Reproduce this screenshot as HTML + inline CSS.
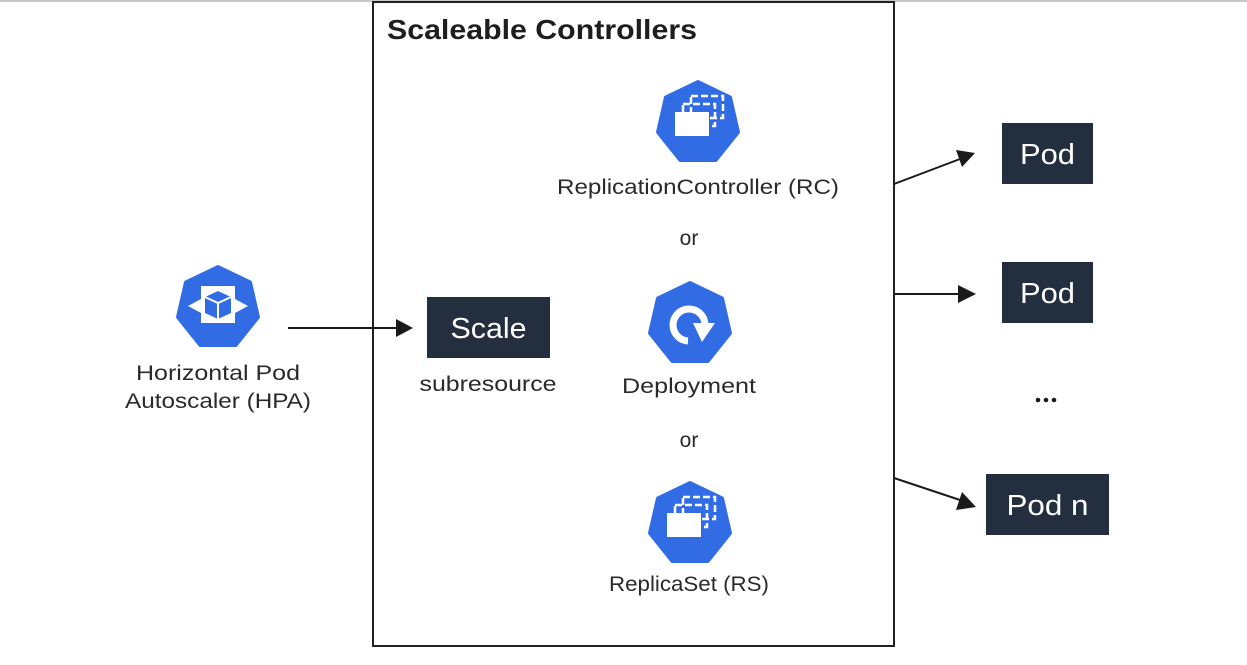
<!DOCTYPE html>
<html><head><meta charset="utf-8"><style>
html,body{margin:0;padding:0;background:#fff;}
svg{display:block;}
text{font-family:"Liberation Sans","DejaVu Sans",sans-serif;}
</style></head><body>
<svg width="1247" height="665" viewBox="0 0 1247 665" xmlns="http://www.w3.org/2000/svg">
<line x1="0" y1="1" x2="1247" y2="1" stroke="#c8c8c8" stroke-width="2"/>
<rect x="373" y="2" width="521" height="644" fill="#fff" stroke="#222" stroke-width="2"/>
<text x="387" y="39" font-size="28" font-weight="bold" fill="#1e1e1e" textLength="310" lengthAdjust="spacingAndGlyphs">Scaleable Controllers</text>

<!-- RC icon -->
<g transform="translate(698,123)">
<polygon points="0,-41 32.05,-25.56 39.97,9.12 17.79,36.94 -17.79,36.94 -39.97,9.12 -32.05,-25.56" fill="#326ce5" stroke="#326ce5" stroke-width="4" stroke-linejoin="round"/>
<rect x="-7" y="-27" width="32" height="22" fill="none" stroke="#fff" stroke-width="2.5" stroke-dasharray="7,3"/>
<rect x="-15" y="-19" width="32" height="22" fill="none" stroke="#fff" stroke-width="2.5" stroke-dasharray="7,3"/>
<rect x="-23" y="-11" width="34" height="24" fill="#fff"/>
</g>
<text x="698" y="194" font-size="21" fill="#2a2a2a" text-anchor="middle" textLength="282" lengthAdjust="spacingAndGlyphs">ReplicationController (RC)</text>
<text x="689" y="245" font-size="21" fill="#2a2a2a" text-anchor="middle">or</text>

<!-- Deployment icon -->
<g transform="translate(690,324)">
<polygon points="0,-41 32.05,-25.56 39.97,9.12 17.79,36.94 -17.79,36.94 -39.97,9.12 -32.05,-25.56" fill="#326ce5" stroke="#326ce5" stroke-width="4" stroke-linejoin="round"/>
<path d="M-2,17 A16,16 0 1 1 15,0" fill="none" stroke="#fff" stroke-width="7"/>
<path d="M3,-1 L25,-1 L12,18 z" fill="#fff"/>
</g>
<text x="689" y="393" font-size="21" fill="#2a2a2a" text-anchor="middle" textLength="134" lengthAdjust="spacingAndGlyphs">Deployment</text>
<text x="689" y="447" font-size="21" fill="#2a2a2a" text-anchor="middle">or</text>

<!-- RS icon -->
<g transform="translate(690,524)">
<polygon points="0,-41 32.05,-25.56 39.97,9.12 17.79,36.94 -17.79,36.94 -39.97,9.12 -32.05,-25.56" fill="#326ce5" stroke="#326ce5" stroke-width="4" stroke-linejoin="round"/>
<rect x="-7" y="-27" width="32" height="22" fill="none" stroke="#fff" stroke-width="2.5" stroke-dasharray="7,3"/>
<rect x="-15" y="-19" width="32" height="22" fill="none" stroke="#fff" stroke-width="2.5" stroke-dasharray="7,3"/>
<rect x="-23" y="-11" width="34" height="24" fill="#fff"/>
</g>
<text x="689" y="591" font-size="21" fill="#2a2a2a" text-anchor="middle" textLength="160" lengthAdjust="spacingAndGlyphs">ReplicaSet (RS)</text>

<!-- HPA icon -->
<g transform="translate(218,308)">
<polygon points="0,-41 32.05,-25.56 39.97,9.12 17.79,36.94 -17.79,36.94 -39.97,9.12 -32.05,-25.56" fill="#326ce5" stroke="#326ce5" stroke-width="4" stroke-linejoin="round"/>
<rect x="-17" y="-22" width="34" height="37" fill="#fff"/>
<path d="M0,-17 L13,-11 L13,5 L0,11 L-13,5 L-13,-11 z" fill="#326ce5"/>
<path d="M-13,-11 L0,-5 L13,-11 M0,-5 L0,11" fill="none" stroke="#fff" stroke-width="2"/>
<path d="M-17,-9 L-30,-2 L-17,5 z" fill="#fff"/>
<path d="M17,-9 L30,-2 L17,5 z" fill="#fff"/>
</g>
<text x="218" y="380" font-size="21" fill="#2a2a2a" text-anchor="middle" textLength="164" lengthAdjust="spacingAndGlyphs">Horizontal Pod</text>
<text x="218" y="408" font-size="21" fill="#2a2a2a" text-anchor="middle" textLength="186" lengthAdjust="spacingAndGlyphs">Autoscaler (HPA)</text>

<!-- Scale -->
<rect x="427" y="297" width="123" height="61" fill="#232f3e"/>
<text x="488.5" y="338" font-size="29" fill="#fff" text-anchor="middle" textLength="76" lengthAdjust="spacingAndGlyphs">Scale</text>
<text x="488" y="391" font-size="21" fill="#2a2a2a" text-anchor="middle" textLength="137" lengthAdjust="spacingAndGlyphs">subresource</text>

<!-- Pods -->
<rect x="1002" y="123" width="91" height="61" fill="#232f3e"/>
<text x="1047.5" y="164" font-size="29" fill="#fff" text-anchor="middle" textLength="55" lengthAdjust="spacingAndGlyphs">Pod</text>
<rect x="1002" y="262" width="91" height="61" fill="#232f3e"/>
<text x="1047.5" y="303" font-size="29" fill="#fff" text-anchor="middle" textLength="55" lengthAdjust="spacingAndGlyphs">Pod</text>
<g fill="#1a1a1a"><circle cx="1038" cy="400" r="2.3"/><circle cx="1046" cy="400" r="2.3"/><circle cx="1054" cy="400" r="2.3"/></g>
<rect x="986" y="474" width="123" height="61" fill="#232f3e"/>
<text x="1047.5" y="515" font-size="29" fill="#fff" text-anchor="middle" textLength="82" lengthAdjust="spacingAndGlyphs">Pod n</text>

<!-- arrows -->
<g stroke="#1a1a1a" stroke-width="2" fill="none">
<line x1="288" y1="328" x2="398" y2="328"/>
<line x1="894" y1="184" x2="960" y2="159"/>
<line x1="894" y1="294" x2="960" y2="294"/>
<line x1="894" y1="478" x2="960" y2="500"/>
</g>
<g fill="#1a1a1a">
<path d="M396,319 L413,328 L396,337 z"/>
<path d="M956,150 L975,153 L962,167 z"/>
<path d="M958,285 L976,294 L958,303 z"/>
<path d="M962,492 L976,507 L956,510 z"/>
</g>
</svg>
</body></html>
